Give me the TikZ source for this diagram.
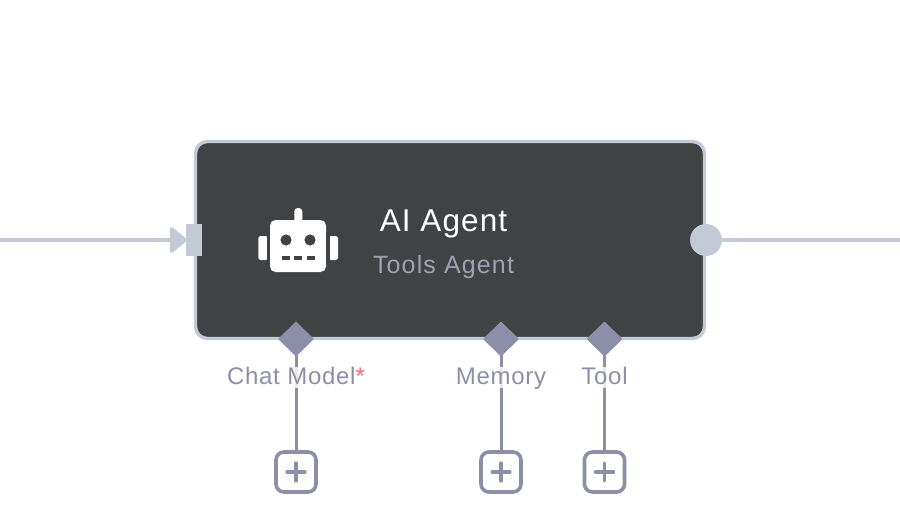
\documentclass[tikz,border=0pt]{standalone}
\usepackage{fontspec}
\setmainfont{Liberation Sans}
\newfontfamily\titlefont[LetterSpace=3.5]{Liberation Sans}
\newfontfamily\subfont[LetterSpace=4.6]{Liberation Sans}
\newfontfamily\labelfont[LetterSpace=3]{Liberation Sans}
\definecolor{edgegrey}{HTML}{C3C9D5}
\definecolor{bodygrey}{HTML}{414244}
\definecolor{slotgrey}{HTML}{8D8FA8}
\definecolor{subgrey}{HTML}{9DA3B2}
\definecolor{starred}{HTML}{F5686E}
\tikzset{
  agentbox/.style={draw=edgegrey, fill=bodygrey, line width=3.4pt, rounded corners=12pt, minimum width=509pt, minimum height=197pt, inner sep=0pt},
  slotdiamond/.style={fill=slotgrey, rounded corners=1pt},
  slotlabel/.style={fill=white, fill opacity=0.8, text opacity=1, text=slotgrey, font=\labelfont\fontsize{24}{24}\selectfont, inner sep=0pt, anchor=base, text height=17pt, text depth=4pt},
  plusbox/.style={draw=slotgrey, fill=white, line width=3.6pt, rounded corners=8pt, minimum size=40pt, inner sep=0pt},
  stem/.style={draw=slotgrey, line width=3pt},
  wire/.style={draw=edgegrey, line width=4pt},
}
\begin{document}
\begin{tikzpicture}[x=1pt,y=-1pt]
\useasboundingbox (0,0) rectangle (900,522);
% wires
\coordinate (leftend) at (0,240);
\coordinate (rightend) at (900,240);
\coordinate (intip) at (176,240);
\node [agentbox] (agent) at (450,240) {};
\fill [edgegrey, draw=edgegrey, line width=3pt, line join=round] (171.5,228.5) -- (185.5,240) -- (171.5,251.5) -- cycle;
\node [rectangle, fill=edgegrey, minimum width=16pt, minimum height=32pt, inner sep=0pt] (inport) at (194,240) {};
\node [circle, fill=edgegrey, minimum size=32pt, inner sep=0pt] (outport) at (706,240) {};
\draw [wire] (leftend) -- (intip);
\draw [wire] (outport) -- (rightend);
% robot
\fill [white, rounded corners=5.5pt] (270,220) rectangle (326,272);
\fill [white, rounded corners=3.5pt] (294.3,208) rectangle (302.3,226);
\fill [white, rounded corners=2.5pt] (258.3,236) rectangle (268,260);
\fill [white, rounded corners=2.5pt] (328.5,236) rectangle (338,260);
\fill [bodygrey] (266.7,232) rectangle (270,264);
\fill [bodygrey] (326,232) rectangle (330,264);
\fill [bodygrey] (286,240) circle (5.6);
\fill [bodygrey] (310,240) circle (5.6);
\fill [bodygrey] (282.3,256) rectangle (290.3,260);
\fill [bodygrey] (294.3,256) rectangle (302.3,260);
\fill [bodygrey] (306.7,256) rectangle (314.7,260);
% texts
\node [text=white, font=\titlefont\fontsize{31.5}{31.5}\selectfont, inner sep=0pt, anchor=base] (title) at (443.5,231) {AI Agent};
\node [text=subgrey, font=\subfont\fontsize{25}{25}\selectfont, inner sep=0pt, anchor=base] (subtitle) at (443.5,273) {Tools Agent};
% slots
\node [plusbox] (chatplus) at (296,472) {};
\node [plusbox] (memplus) at (501,472) {};
\node [plusbox] (toolplus) at (604.5,472) {};
\coordinate (chatslot) at (296,339);
\coordinate (memslot) at (501,339);
\coordinate (toolslot) at (604.5,339);
\draw [stem] (chatslot) -- (chatplus);
\draw [stem] (memslot) -- (memplus);
\draw [stem] (toolslot) -- (toolplus);
\foreach \s in {chatslot,memslot,toolslot} {
  \fill [slotdiamond] ([xshift=-18pt]\s) -- ([yshift=-17.5pt]\s) -- ([xshift=18pt]\s) -- ([yshift=17.5pt]\s) -- cycle;
}
\foreach \p in {chatplus,memplus,toolplus} {
  \draw [slotgrey, line width=3.2pt, line cap=round] ([xshift=-9pt]\p.center) -- ([xshift=9pt]\p.center);
  \draw [slotgrey, line width=3.2pt, line cap=round] ([yshift=-9pt]\p.center) -- ([yshift=9pt]\p.center);
}
\node [slotlabel] (chatlabel) at (296,384) {Chat Model\textcolor{starred}{*}};
\node [slotlabel] (memlabel) at (501,384) {Memory};
\node [slotlabel] (toollabel) at (604.5,384) {Tool};
\end{tikzpicture}
\end{document}
